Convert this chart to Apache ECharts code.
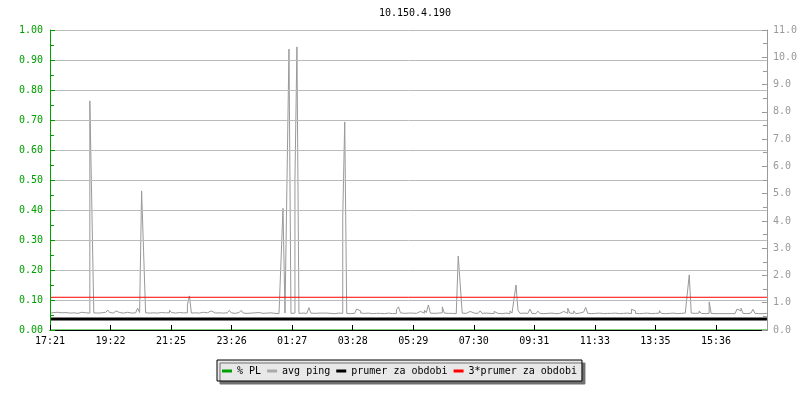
<!DOCTYPE html>
<html><head><meta charset="utf-8">
<script src="https://cdn.jsdelivr.net/npm/echarts@6/dist/echarts.min.js"></script>
<style>html,body{margin:0;padding:0;background:#fff}#c{width:800px;height:400px}</style>
</head><body><div id="c"></div>
<script>
const titleText = '10.150.4.190';
const xLabels = ['17:21','19:22','21:25','23:26','01:27','03:28','05:29','07:30','09:31','11:33','13:35','15:36'];
const tickStep = 30.4;          // samples between time labels
const sampleCount = 360;
// avg ping (ms), one value per sample
const pingValues = [
0.62,0.64,0.63,0.65,0.62,0.63,0.61,0.64,0.63,0.62,0.64,0.63,0.62,0.61,0.63,0.65,0.62,0.63,0.64,0.62,
8.4,4.55,0.63,0.62,0.64,0.63,0.62,0.65,0.63,0.73,0.64,0.62,0.63,0.70,0.64,0.63,0.62,0.64,0.65,0.63,
0.62,0.64,0.63,0.65,0.80,0.64,5.1,2.87,0.63,0.62,0.64,0.63,0.65,0.62,0.63,0.64,0.62,0.63,0.65,0.63,
0.73,0.64,0.62,0.63,0.64,0.62,0.63,0.61,0.63,0.92,1.25,0.62,0.63,0.64,0.62,0.63,0.65,0.62,0.63,0.64,
0.70,0.63,0.62,0.64,0.63,0.61,0.62,0.64,0.63,0.62,0.72,0.63,0.61,0.62,0.64,0.63,0.72,0.62,0.61,0.63,
0.62,0.61,0.63,0.62,0.64,0.62,0.61,0.66,0.62,0.61,0.63,0.62,0.61,0.62,0.60,0.62,2.54,4.46,0.62,5.43,
10.3,0.61,0.62,5.5,10.38,0.61,0.62,0.60,0.61,0.62,0.82,0.62,0.61,0.60,0.62,0.61,0.62,0.60,0.62,0.66,
0.61,0.62,0.60,0.61,0.62,0.60,0.61,4.12,7.63,0.61,0.60,0.62,0.61,0.63,0.77,0.70,0.62,0.61,0.65,0.62,
0.61,0.60,0.62,0.61,0.60,0.61,0.62,0.60,0.61,0.62,0.61,0.60,0.62,0.61,0.75,0.85,0.63,0.61,0.60,0.62,
0.61,0.62,0.60,0.61,0.62,0.68,0.61,0.62,0.73,0.64,0.92,0.62,0.61,0.60,0.62,0.61,0.63,0.85,0.62,0.61,
0.60,0.61,0.62,0.60,0.61,2.71,1.65,0.62,0.61,0.60,0.68,0.61,0.62,0.60,0.61,0.62,0.70,0.61,0.62,0.60,
0.61,0.62,0.60,0.68,0.61,0.62,0.60,0.61,0.62,0.61,0.60,0.70,0.62,1.14,1.65,0.72,0.61,0.62,0.60,0.61,
0.62,0.77,0.61,0.60,0.62,0.69,0.61,0.60,0.62,0.61,0.60,0.62,0.61,0.60,0.62,0.61,0.60,0.68,0.62,0.61,
0.80,0.62,0.61,0.70,0.60,0.62,0.61,0.66,0.62,0.83,0.61,0.60,0.62,0.61,0.60,0.62,0.61,0.60,0.62,0.61,
0.68,0.61,0.60,0.62,0.61,0.60,0.62,0.61,0.60,0.62,0.61,0.60,0.76,0.70,0.61,0.60,0.62,0.61,0.60,0.62,
0.61,0.60,0.62,0.61,0.60,0.62,0.71,0.61,0.60,0.62,0.61,0.60,0.62,0.61,0.60,0.62,0.61,0.60,0.62,0.68,
1.32,2.02,0.62,0.61,0.60,0.62,0.70,0.61,0.60,0.62,0.61,1.03,0.61,0.60,0.61,0.60,0.61,0.60,0.61,0.60,
0.61,0.60,0.61,0.60,0.61,0.77,0.70,0.80,0.61,0.60,0.61,0.62,0.60,0.76,0.61,0.60,0.61,0.60,0.62,0.61
];
// % packet loss per sample (none observed)
const plValues = [
0,0,0,0,0,0,0,0,0,0,0,0,0,0,0,0,0,0,0,0,0,0,0,0,0,0,0,0,0,0,0,0,0,0,0,0,0,0,0,0,
0,0,0,0,0,0,0,0,0,0,0,0,0,0,0,0,0,0,0,0,0,0,0,0,0,0,0,0,0,0,0,0,0,0,0,0,0,0,0,0,
0,0,0,0,0,0,0,0,0,0,0,0,0,0,0,0,0,0,0,0,0,0,0,0,0,0,0,0,0,0,0,0,0,0,0,0,0,0,0,0,
0,0,0,0,0,0,0,0,0,0,0,0,0,0,0,0,0,0,0,0,0,0,0,0,0,0,0,0,0,0,0,0,0,0,0,0,0,0,0,0,
0,0,0,0,0,0,0,0,0,0,0,0,0,0,0,0,0,0,0,0,0,0,0,0,0,0,0,0,0,0,0,0,0,0,0,0,0,0,0,0,
0,0,0,0,0,0,0,0,0,0,0,0,0,0,0,0,0,0,0,0,0,0,0,0,0,0,0,0,0,0,0,0,0,0,0,0,0,0,0,0,
0,0,0,0,0,0,0,0,0,0,0,0,0,0,0,0,0,0,0,0,0,0,0,0,0,0,0,0,0,0,0,0,0,0,0,0,0,0,0,0,
0,0,0,0,0,0,0,0,0,0,0,0,0,0,0,0,0,0,0,0,0,0,0,0,0,0,0,0,0,0,0,0,0,0,0,0,0,0,0,0,
0,0,0,0,0,0,0,0,0,0,0,0,0,0,0,0,0,0,0,0,0,0,0,0,0,0,0,0,0,0,0,0,0,0,0,0,0,0,0,0
];
const meanPing = 0.4;       // prumer za obdobi
const tripleMeanPing = 1.2; // 3*prumer za obdobi
const seriesNames = ['% PL','avg ping','prumer za obdobi','3*prumer za obdobi'];
const seriesColors = ['#00a000','#999999','#000000','#ff0000'];

const FONT = 'DejaVu Sans Mono';
// step-shaped path: each sample holds its value across its own interval
function toSteps(arr){
  const out = [];
  arr.forEach((v,i)=>{ out.push([i,v]); out.push([i+1,v]); });
  return out;
}
const chart = echarts.init(document.getElementById('c'), null, {renderer:'canvas'});
chart.setOption({
  animation:false,
  backgroundColor:'#ffffff',
  title:{text:titleText,left:410,top:3,textAlign:'center',
    textStyle:{fontFamily:FONT,fontSize:10,fontWeight:'normal',color:'#000'}},
  grid:{left:50,right:30,top:30,bottom:70,containLabel:false},
  legend:{
    data:seriesNames.map((n,i)=>({name:n,itemStyle:{color:i===1?'#aaaaaa':seriesColors[i]}})),
    left:217,top:360,icon:'rect',itemWidth:10,itemHeight:3,itemGap:6,
    padding:[6,5,5,5],backgroundColor:'#e8e8e8',borderColor:'#000',borderWidth:1,
    shadowColor:'#707070',shadowBlur:0,shadowOffsetX:3,shadowOffsetY:3,
    textStyle:{fontFamily:FONT,fontSize:10,color:'#000'},
    selectedMode:false
  },
  xAxis:{type:'value',min:0,max:sampleCount,interval:tickStep,z:10,
    axisLine:{lineStyle:{color:'#000',width:1}},
    axisTick:{inside:true,length:5,lineStyle:{color:'#000'}},
    axisLabel:{showMaxLabel:false,margin:6,fontFamily:FONT,fontSize:10,color:'#000',
      formatter:function(v){const k=Math.round(v/tickStep);return Math.abs(k*tickStep-v)<0.01?(xLabels[k]||''):'';}},
    splitLine:{show:false}
  },
  yAxis:[
    {type:'value',min:0,max:1,interval:0.1,position:'left',z:10,
      axisLine:{show:true,lineStyle:{color:'#00a000'}},
      axisTick:{show:true,inside:true,length:5,lineStyle:{color:'#00a000'}},
      minorTick:{show:true,splitNumber:2,length:4,lineStyle:{color:'#00a000'}},
      axisLabel:{margin:7,fontFamily:FONT,fontSize:10,color:'#00a000',formatter:v=>v.toFixed(2)},
      splitLine:{show:true,lineStyle:{color:'#bbbbbb',width:1}}
    },
    {type:'value',min:0,max:11,interval:1,position:'right',z:10,
      axisLine:{show:true,lineStyle:{color:'#999'}},
      axisTick:{show:true,inside:true,length:5,lineStyle:{color:'#999'}},
      minorTick:{show:true,splitNumber:2,length:4,lineStyle:{color:'#999'}},
      axisLabel:{margin:6,fontFamily:FONT,fontSize:10,color:'#999',formatter:v=>v.toFixed(1)},
      splitLine:{show:false}
    }
  ],
  series:[
    {name:seriesNames[0],type:'line',yAxisIndex:0,symbol:'none',smooth:false,
      lineStyle:{color:seriesColors[0],width:1},itemStyle:{color:seriesColors[0]},
      data:toSteps(plValues),z:1},
    {name:seriesNames[1],type:'line',yAxisIndex:1,symbol:'none',smooth:false,
      lineStyle:{color:seriesColors[1],width:1},itemStyle:{color:seriesColors[1]},
      data:toSteps(pingValues),z:3},
    {name:seriesNames[2],type:'line',yAxisIndex:1,symbol:'none',
      lineStyle:{color:seriesColors[2],width:3},itemStyle:{color:seriesColors[2]},
      data:[[0,meanPing],[sampleCount,meanPing]],z:4},
    {name:seriesNames[3],type:'line',yAxisIndex:1,symbol:'none',
      lineStyle:{color:seriesColors[3],width:1},itemStyle:{color:seriesColors[3]},
      data:[[0,tripleMeanPing],[sampleCount,tripleMeanPing]],z:4}
  ]
});
</script></body></html>
